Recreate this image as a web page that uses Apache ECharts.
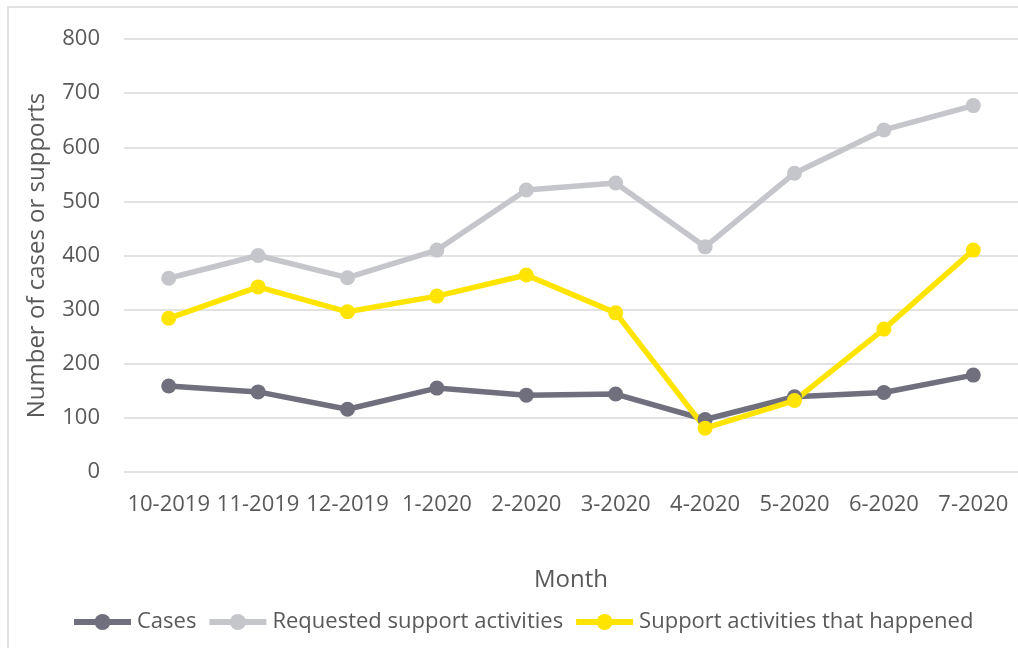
<!DOCTYPE html>
<html><head><meta charset="utf-8">
<script src="https://cdn.jsdelivr.net/npm/echarts@6/dist/echarts.min.js"></script>
<style>html,body{margin:0;padding:0;background:#fff}#c{width:1018px;height:648px}</style>
</head><body><div id="c"></div>
<script>
const months = ['10-2019','11-2019','12-2019','1-2020','2-2020','3-2020','4-2020','5-2020','6-2020','7-2020'];
const cases = [159,148,116,155,142,144,97,139,147,179];
const requested = [358,400,359,410,521,534,416,552,632,677];
const happened = [284,342,296,325,364,294,81,132,264,410];
const yTicks = [0,800,100];

const font = 'Open Sans';
const txt = '#595959';
const chart = echarts.init(document.getElementById('c'));
function ser(name, data, color){
  return {name, type:'line', data, symbol:'circle', symbolSize:15,
    lineStyle:{width:5.5,color}, itemStyle:{color}, emphasis:{disabled:true}};
}
chart.setOption({
  animation:false,
  graphic:[{type:'rect',shape:{x:8,y:7,width:1020,height:660},style:{fill:'none',stroke:'#d9d9d9',lineWidth:1.5},silent:true}],
  grid:{left:124,top:39,width:896,height:433},
  legend:{top:606,left:66,itemWidth:57,itemHeight:20,itemGap:10,
    lineStyle:{width:6},
    textStyle:{fontFamily:font,fontSize:22,color:txt,padding:[0,0,0,1]},
    data:['Cases','Requested support activities','Support activities that happened']},
  xAxis:{type:'category',data:months,boundaryGap:true,
    name:'Month',nameLocation:'middle',nameGap:96,
    nameTextStyle:{fontFamily:font,fontSize:24,color:txt},
    axisLine:{show:false},axisTick:{show:false},
    axisLabel:{fontFamily:font,fontSize:22,color:txt,margin:22,interval:0}},
  yAxis:{type:'value',min:yTicks[0],max:yTicks[1],interval:yTicks[2],
    name:'Number of cases or supports',nameLocation:'middle',nameGap:75,
    nameTextStyle:{fontFamily:font,fontSize:24,color:txt},
    axisLabel:{fontFamily:font,fontSize:22,color:txt,margin:24},
    splitLine:{lineStyle:{color:'#d9d9d9',width:1.5}}},
  series:[ser('Cases',cases,'#706f7d'),ser('Requested support activities',requested,'#c5c5cc'),ser('Support activities that happened',happened,'#ffe400')]
});
</script></body></html>
